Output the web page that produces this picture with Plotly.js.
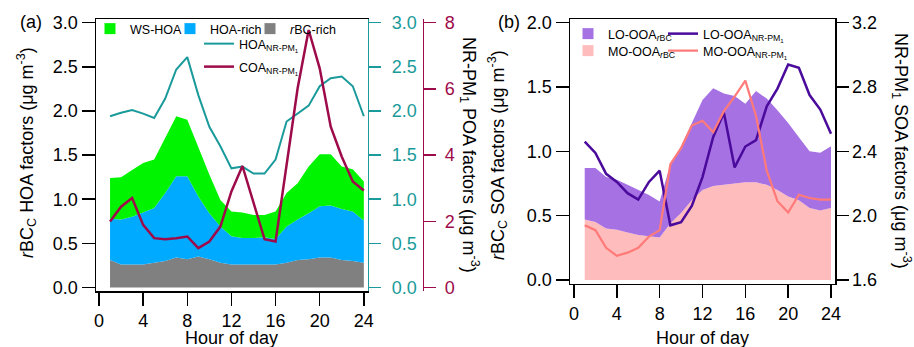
<!DOCTYPE html>
<html>
<head>
<meta charset="utf-8">
<script src="https://cdn.plot.ly/plotly-3.0.1.min.js"></script>
<style>html,body{margin:0;padding:0;background:#fff;}#chart{width:914px;height:347px;}</style>
</head>
<body>
<div id="chart"></div>
<script>
// ---------- data ----------
const hours = [1,2,3,4,5,6,7,8,9,10,11,12,13,14,15,16,17,18,19,20,21,22,23,24];
const hourTicks = [0,4,8,12,16,20,24];

// panel (a): rBC_C HOA factors (stacked)
const rbcRich = [0.31,0.26,0.26,0.26,0.28,0.30,0.34,0.32,0.35,0.32,0.28,0.26,0.26,0.26,0.26,0.26,0.28,0.31,0.32,0.34,0.34,0.31,0.30,0.28];
const hoaRich = [0.47,0.51,0.54,0.59,0.62,0.77,0.92,0.94,0.68,0.52,0.41,0.32,0.30,0.30,0.31,0.29,0.41,0.46,0.52,0.58,0.59,0.58,0.56,0.48];
const wsHoa   = [0.46,0.48,0.53,0.56,0.55,0.62,0.68,0.64,0.55,0.44,0.30,0.28,0.29,0.26,0.25,0.31,0.38,0.41,0.53,0.59,0.58,0.48,0.48,0.44];
// panel (a): NR-PM1 POA factors
const hoaNR = [1.94,1.98,2.01,1.97,1.92,2.14,2.47,2.61,2.18,1.82,1.60,1.35,1.37,1.29,1.29,1.45,1.88,1.97,2.06,2.28,2.37,2.39,2.28,1.94];
const coaNR = [1.99,2.44,2.70,1.89,1.49,1.46,1.49,1.54,1.19,1.39,1.84,2.90,3.67,2.55,1.46,1.39,3.65,6.02,7.78,6.62,4.86,3.95,3.20,2.93];

// panel (b): rBC_C SOA factors (stacked)
const moOoaRbc = [0.47,0.45,0.40,0.39,0.37,0.35,0.34,0.33,0.44,0.52,0.62,0.70,0.73,0.74,0.75,0.76,0.76,0.74,0.70,0.65,0.62,0.56,0.54,0.56];
const loOoaRbc = [0.40,0.42,0.40,0.39,0.37,0.35,0.32,0.28,0.46,0.52,0.60,0.70,0.76,0.71,0.68,0.61,0.71,0.67,0.62,0.57,0.49,0.44,0.45,0.48];
// panel (b): NR-PM1 SOA factors
const loOoaNR = [2.46,2.39,2.26,2.21,2.14,2.10,2.21,2.28,1.94,1.96,2.06,2.24,2.49,2.64,2.30,2.43,2.47,2.68,2.79,2.94,2.92,2.75,2.66,2.51];
const moOoaNR = [1.94,1.91,1.80,1.75,1.77,1.80,1.87,1.91,2.32,2.42,2.56,2.59,2.52,2.65,2.74,2.84,2.62,2.28,2.09,2.02,2.13,2.11,2.10,2.10];

const yTicksA = [0,0.5,1,1.5,2,2.5,3];
const yTicksCOA = [0,2,4,6,8];
const yTicksB = [0,0.5,1,1.5,2];
const yTicksB2 = [1.6,2.0,2.4,2.8,3.2];

// ---------- styles ----------
const W = 914, H = 347;
const FONT = 'Arial, "Liberation Sans", sans-serif';
const C = {
  green:'#00f400', blue:'#00aaff', gray:'#808080', teal:'#1a9a9a', crimson:'#9e0b4a',
  purple:'#a672e3', pink:'#ffbcbc', dpurple:'#4a0a9c', salmon:'#ff7a78'
};
const px = v => v / W;
const py = v => 1 - v / H;

function area(x, y, name, color, xa, ya, grp) {
  return {type:'scatter', mode:'lines', x:x, y:y, name:name, stackgroup:grp,
    line:{width:0, color:color}, fillcolor:color, xaxis:xa, yaxis:ya, showlegend:false, hoverinfo:'skip'};
}
function line(x, y, name, color, w, xa, ya, leg) {
  return {type:'scatter', mode:'lines', x:x, y:y, name:name, line:{width:w, color:color},
    xaxis:xa, yaxis:ya, legend:leg, showlegend:true};
}
function swatch(name, color, xa, ya, leg) {
  return {type:'scatter', mode:'markers', x:[null], y:[null], name:name,
    marker:{symbol:'square', size:11, color:color}, xaxis:xa, yaxis:ya, legend:leg, showlegend:true};
}

const traces = [
  area(hours, rbcRich, 'rBC-rich', C.gray, 'x', 'y', 'a'),
  area(hours, hoaRich, 'HOA-rich', C.blue, 'x', 'y', 'a'),
  area(hours, wsHoa, 'WS-HOA', C.green, 'x', 'y', 'a'),
  swatch('WS-HOA', C.green, 'x', 'y', 'legend'),
  swatch('HOA-rich', C.blue, 'x', 'y', 'legend2'),
  swatch('<i>r</i>BC-rich', C.gray, 'x', 'y', 'legend3'),
  line(hours, hoaNR, 'HOA<sub>NR-PM<sub>1</sub></sub>', C.teal, 2, 'x', 'y2', 'legend4'),
  line(hours, coaNR, 'COA<sub>NR-PM<sub>1</sub></sub>', C.crimson, 2.5, 'x', 'y3', 'legend5'),

  area(hours, moOoaRbc, 'MO-OOA rBC', C.pink, 'x2', 'y4', 'b'),
  area(hours, loOoaRbc, 'LO-OOA rBC', C.purple, 'x2', 'y4', 'b'),
  swatch('LO-OOA<sub><i>r</i>BC</sub>', C.purple, 'x2', 'y4', 'legend6'),
  swatch('MO-OOA<sub><i>r</i>BC</sub>', C.pink, 'x2', 'y4', 'legend7'),
  line(hours, loOoaNR, 'LO-OOA<sub>NR-PM<sub>1</sub></sub>', C.dpurple, 2.5, 'x2', 'y5', 'legend8'),
  line(hours, moOoaNR, 'MO-OOA<sub>NR-PM<sub>1</sub></sub>', C.salmon, 2.2, 'x2', 'y5', 'legend9')
];

function leg(X, Y) {
  return {x:px(X), y:py(Y), xanchor:'left', yanchor:'top', bgcolor:'rgba(0,0,0,0)',
    borderwidth:0, font:{family:FONT, size:12.5, color:'#000'}, itemclick:false, itemdoubleclick:false};
}

const tickFont = c => ({family:FONT, size:18, color:c});
function xAxis(dom, rng, anchor) {
  return {domain:dom, range:rng, anchor:anchor, tickmode:'array', tickvals:hourTicks,
    ticks:'outside', ticklen:13, tickwidth:1.5, tickcolor:'#000', showline:true, mirror:true,
    linecolor:'#000', linewidth:1.5, showgrid:false, zeroline:false, tickfont:tickFont('#000')};
}
function yAxis(opts) {
  return Object.assign({tickmode:'array', ticks:'outside', ticklen:13, tickwidth:1.5,
    showline:true, linewidth:1.5, showgrid:false, zeroline:false, tickformat:'.1f'}, opts);
}

const domA = [0.16138, 0.94524];
const domB = [0.18156, 0.94524];

function ann(text, X, Y, size, angle) {
  return {text:text, x:px(X), y:py(Y), xref:'paper', yref:'paper', xanchor:'center', yanchor:'middle',
    showarrow:false, textangle:angle || 0, font:{family:FONT, size:size, color:'#000'}};
}

const layout = {
  width:W, height:H, margin:{l:0, r:0, t:0, b:0}, paper_bgcolor:'#fff', plot_bgcolor:'rgba(0,0,0,0)',
  font:{family:FONT, size:18, color:'#000'},
  xaxis: xAxis([px(96), px(367.7)], [-0.272, 24.35], 'y'),
  yaxis: yAxis({domain:domA, anchor:'x', range:[-0.040, 3.042], tickvals:yTicksA, mirror:true,
    linecolor:'#000', tickcolor:'#000', tickfont:tickFont('#000')}),
  yaxis2: yAxis({overlaying:'y', side:'right', anchor:'x', range:[-0.040, 3.042], tickvals:yTicksA,
    linecolor:C.teal, tickcolor:C.teal, ticklen:12, ticklabelstandoff:7, tickfont:tickFont(C.teal)}),
  yaxis3: yAxis({overlaying:'y', side:'right', anchor:'free', position:px(422.7), range:[-0.1067, 8.112],
    tickvals:yTicksCOA, tickformat:'d', linecolor:C.crimson, tickcolor:C.crimson, ticklen:12,
    ticklabelstandoff:5, tickfont:tickFont(C.crimson)}),
  xaxis2: xAxis([px(570), px(835)], [-0.3735, 24.374], 'y4'),
  yaxis4: yAxis({domain:domB, anchor:'x2', range:[-0.0311, 2.0288], tickvals:yTicksB, mirror:true,
    linecolor:'#000', tickcolor:'#000', tickfont:tickFont('#000')}),
  yaxis5: yAxis({overlaying:'y4', side:'right', anchor:'x2', range:[1.5751, 3.2230], tickvals:yTicksB2,
    linecolor:'#000', tickcolor:'#000', ticklen:12, tickfont:tickFont('#000')}),
  legend: leg(90, 14),
  legend2: leg(170, 14),
  legend3: leg(250, 14),
  legend4: leg(199, 29),
  legend5: leg(199, 52),
  legend6: leg(568, 19),
  legend7: leg(568, 36),
  legend8: leg(663, 19),
  legend9: leg(663, 36),
  annotations: [
    ann('(a)', 31, 22, 18),
    ann('(b)', 509, 22, 18),
    ann('Hour of day', 231.7, 338, 18),
    ann('Hour of day', 702.7, 338, 18),
    ann('<i>r</i>BC<sub>C</sub> HOA factors (μg m<sup>-3</sup>)', 26, 153, 18, -90),
    ann('NR-PM<sub>1</sub> POA factors (μg m<sup>-3</sup>)', 470, 155, 18, 90),
    ann('<i>r</i>BC<sub>C</sub> SOA factors (μg m<sup>-3</sup>)', 497, 155, 18, -90),
    ann('NR-PM<sub>1</sub> SOA factors (μg m<sup>-3</sup>)', 902, 151, 18, 90)
  ]
};

Plotly.newPlot('chart', traces, layout, {staticPlot:true, displayModeBar:false});
</script>
</body>
</html>
